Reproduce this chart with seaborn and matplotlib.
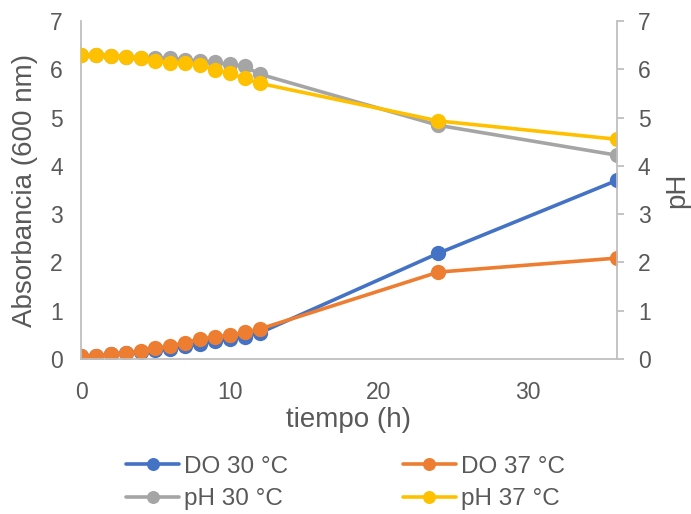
"""
plot.py — Absorbancia (DO 600 nm) y pH frente al tiempo a 30 °C y 37 °C.
"""
import matplotlib
matplotlib.use("Agg")
import matplotlib.pyplot as plt
import pandas as pd
import seaborn as sns

# Datos
tiempo = [0, 1, 2, 3, 4, 5, 6, 7, 8, 9, 10, 11, 12, 24, 36]
do_30 = [0.06, 0.07, 0.10, 0.12, 0.14, 0.18, 0.21, 0.26, 0.31, 0.37, 0.41, 0.46, 0.54, 2.19, 3.70]
do_37 = [0.06, 0.06, 0.10, 0.13, 0.17, 0.23, 0.27, 0.34, 0.41, 0.46, 0.49, 0.55, 0.62, 1.80, 2.09]
ph_30 = [6.30, 6.30, 6.28, 6.26, 6.24, 6.24, 6.23, 6.20, 6.17, 6.15, 6.10, 6.06, 5.90, 4.84, 4.22]
ph_37 = [6.30, 6.30, 6.28, 6.26, 6.24, 6.17, 6.14, 6.13, 6.09, 5.99, 5.92, 5.81, 5.71, 4.93, 4.55]

TEXT = "#595959"
SPINE = "#BFBFBF"
TICK_FS = 16.5
LABEL_FS = 20
LEGEND_FS = 17.5

sns.set_style("white")
plt.rcParams["font.family"] = ["Liberation Sans", "DejaVu Sans"]

df = pd.DataFrame({"tiempo": tiempo, "do_30": do_30, "do_37": do_37,
                   "ph_30": ph_30, "ph_37": ph_37})

fig = plt.figure(figsize=(6.91, 5.14), dpi=100)
ax = fig.add_axes([81 / 691, 1 - 359 / 514, (617 - 81) / 691, (359 - 21) / 514])
ax2 = ax.twinx()

style = dict(marker="o", markersize=11, linewidth=2.6, markeredgewidth=0)
sns.lineplot(data=df, x="tiempo", y="do_30", color="#4472C4", label="DO 30 °C", ax=ax, **style)
sns.lineplot(data=df, x="tiempo", y="do_37", color="#ED7D31", label="DO 37 °C", ax=ax, **style)
sns.lineplot(data=df, x="tiempo", y="ph_30", color="#A5A5A5", label="pH 30 °C", ax=ax2, **style)
sns.lineplot(data=df, x="tiempo", y="ph_37", color="#FFC000", label="pH 37 °C", ax=ax2, **style)

for a in (ax, ax2):
    a.set_ylim(0, 7)
    a.set_yticks(range(0, 8))
    a.set_xlim(0, 36)
    for side in ("top", "left", "right", "bottom"):
        a.spines[side].set_visible(False)
    a.tick_params(colors=TEXT, labelsize=TICK_FS)
    if a.get_legend():
        a.get_legend().remove()

ax.spines["left"].set_visible(True)
ax.spines["left"].set_color(SPINE)
ax.spines["bottom"].set_visible(True)
ax.spines["bottom"].set_color(SPINE)
ax.spines["left"].set_linewidth(1.3)
ax.spines["bottom"].set_linewidth(1.3)
ax.tick_params(axis="y", length=0, pad=13)
ax.tick_params(axis="x", length=0, pad=16)
ax.set_xticks([0, 10, 20, 30])

ax2.spines["right"].set_visible(True)
ax2.spines["right"].set_color(SPINE)
ax2.spines["right"].set_linewidth(1.3)
ax2.tick_params(axis="y", length=5, width=1.3, color=SPINE, pad=10)

ax.set_xlabel("tiempo (h)", color=TEXT, fontsize=LABEL_FS, labelpad=2)
ax.set_ylabel("Absorbancia (600 nm)", color=TEXT, fontsize=LABEL_FS, labelpad=9)
ax2.set_ylabel("pH", color=TEXT, fontsize=LABEL_FS, labelpad=10)

h1, l1 = ax.get_legend_handles_labels()
h2, l2 = ax2.get_legend_handles_labels()
handles = [h1[0], h2[0], h1[1], h2[1]]
labels = [l1[0], l2[0], l1[1], l2[1]]
fig.legend(handles, labels, ncol=2, loc="lower center", bbox_to_anchor=(0.5, -0.035),
           frameon=False, fontsize=LEGEND_FS, labelcolor=TEXT, handlelength=2.2,
           handletextpad=0.2, columnspacing=4.7, labelspacing=0.42, markerscale=0.85)

fig.savefig("out.png", dpi=100)
